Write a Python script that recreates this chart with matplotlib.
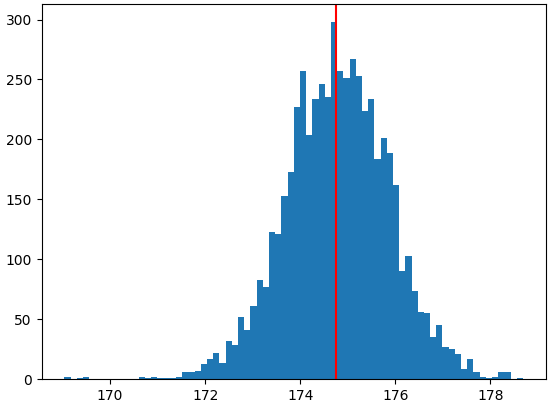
"""Histogram of sample heights with the mean marked by a red line."""

import numpy as np
import matplotlib
matplotlib.use('Agg')
import matplotlib.pyplot as plt

#-------------------------------------------------------------------------------
#DATA

#range of the data and number of bins used by the histogram
hist_min = 169.04
hist_max = 178.685
n_bins = 74

#counts in each bin, left to right
counts = [2, 0, 1, 2, 0, 0, 0, 0, 0, 0, 0, 0,
          2, 1, 2, 1, 1, 1, 2, 6, 6, 7,
          13, 17, 22, 14, 32, 29, 52, 41, 61, 83,
          77, 123, 121, 153, 173, 227, 257, 204, 234, 246,
          235, 298, 257, 251, 267, 253, 224, 234, 184, 201,
          189, 162, 90, 103, 74, 56, 55, 35, 45, 27,
          25, 21, 9, 17, 6, 2, 1, 2, 6, 6,
          0, 1]

#mean value marked with the vertical line
mean_value = 174.746

#y axis ticks
y_ticks = [0, 50, 100, 150, 200, 250, 300]

#-------------------------------------------------------------------------------
#PLOT

edges = np.linspace(hist_min, hist_max, n_bins + 1)

fig, ax = plt.subplots(figsize=(5.5, 4.03), dpi=100)
fig.subplots_adjust(left=0.0755, right=0.9927, top=0.990, bottom=0.0588)

#the histogram, one bar per bin, weighted by the read counts
ax.hist(edges[:-1], bins=edges, weights=counts, color='#1f77b4')

#mean
ax.axvline(mean_value, color='red')

ax.set_yticks(y_ticks)

fig.savefig('out.png', dpi=100)
